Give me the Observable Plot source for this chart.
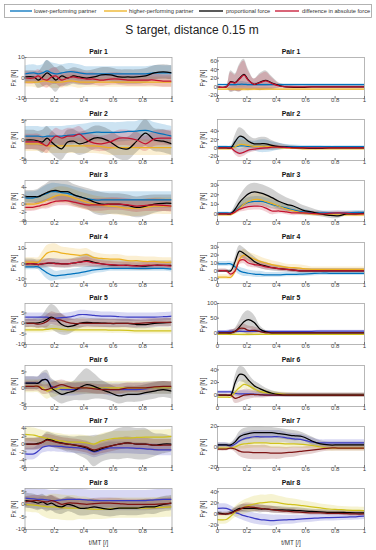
<!DOCTYPE html>
<html><head><meta charset="utf-8">
<script src="https://cdn.jsdelivr.net/npm/d3@7"></script>
<script src="https://cdn.jsdelivr.net/npm/@observablehq/plot@0.6"></script>
<style>
body{margin:0;background:#fff;font-family:"Liberation Sans",Arial,sans-serif}
#root{position:relative;width:376px;height:550px;overflow:hidden;background:#fff}
.panel{position:absolute}
#title{position:absolute;left:0;width:376px;top:23px;text-align:center;font-size:12px;color:#222;padding-left:4px}
</style></head><body><div id="root"><div id="title">S target, distance 0.15 m</div></div>
<script>
// normalized time t/MT
const T = [0,.06,.09,.12,.15,.18,.21,.25,.29,.33,.37,.42,.47,.52,.58,.64,.7,.76,.82,.88,.94,1];
const SERIES = ["lower","higher","prop","diff"];
const LEGEND_LABELS = ["lower-performing partner","higher-performing partner","proportional force","difference in absolute force"];
const COLORS_A = ["#0072bd","#edb120","#000000","#c4122f"];
const COLORS_B = ["#3b3bc4","#d0c21c","#000000","#7d1313"];
const X_TICKS = [0,.2,.4,.6,.8,1];

// ---- Pair 1 ----
const fx1 = {
  lower:[2,2.5,2,2.5,3.5,2.5,2,2.5,3,3,2.5,2,2,2,2,2,2,2,2,2.5,2.5,2.5],
  higher:[-2,-2,-2,-1.5,-1.5,-2,-2,-2,-1.5,-1.5,-2,-2,-2,-2,-2,-2,-2,-2,-2,-2,-2,-2],
  prop:[0.5,0.5,-1,0.5,2.5,1,-1,1,0,1,0.5,0,0.5,1.5,1.5,0.5,0.5,0.5,1,2.5,3,2.5],
  diff:[0,0,1,-0.5,-1,0.5,1,-1,0,0.5,0,-0.5,-0.5,-1,-0.5,-0.5,-1,-1,-1,-1,-1.5,-1.5]};
const fx1sd = {
  lower:[4,4,4,4,5,5,5,4,4,4,4,3.5,3.5,3.5,3.5,3.5,3.5,3.5,3.5,3.5,3.5,3.5],
  higher:[2.5,2.5,3,3,3,3,3,3,3,3,3,2.5,2.5,2.5,2.5,2.5,2.5,2.5,2.5,2.5,2.5,2.5],
  prop:[3,3,4,5,6,6,6,5,4,4,4,3.5,3.5,3.5,3.5,3.5,3.5,3.5,3.5,3.5,3.5,3.5],
  diff:[3,3,3,3.5,4,4,4,3.5,3,3,3,3,3,3,3,3,3,3,3,3,3,3]};
const fy1 = {
  lower:[5,5,5,5,6,6,5,5,5,5,5,5,5,5,5,5,5,5,5,5,5,5],
  higher:[-5,-5,-5,-5,-5,-5,-5,-5,-5,-5,-5,-5,-5,-5,-5,-5,-5,-5,-5,-5,-5,-5],
  prop:[0,0,12,10,20,29,16,6,11,15,9,3,0,-1,-1,0,0,0,0,0,0,0],
  diff:[0,0,11,9,18,27,15,6,10,14,8,2,0,0,0,0,0,0,0,0,0,0]};
const fy1sd = {
  lower:[2,2,4,5,6,6,5,4,4,4,3,2,2,2,2,2,2,2,2,2,2,2],
  higher:[2,2,4,5,6,6,5,4,4,4,3,2,2,2,2,2,2,2,2,2,2,2],
  prop:[2,2,25,20,32,35,25,12,20,22,15,6,4,3,3,3,3,3,3,3,3,3],
  diff:[2,2,22,18,30,33,22,12,18,20,13,5,3,3,2,2,2,2,2,2,2,2]};

// ---- Pair 2 ----
const fx2 = {
  lower:[1,1,1,0.8,1,1,1,1,1.2,1.3,1.5,1.7,2,2,2,2,2.2,2.3,2.5,2,1.5,1],
  higher:[-1,-1,-1,-1.2,-1.5,-1.5,-1.5,-1.5,-1.5,-1.5,-1.5,-1.5,-1.5,-1.7,-2,-2,-2,-2,-2,-2,-2,-2],
  prop:[0,0,-0.3,-0.5,0.5,-0.5,-1.5,-2.3,-0.5,-0.3,-1,-0.5,0.5,0.5,-0.5,-2,-2.3,-0.3,1.8,0,-0.3,-1],
  diff:[-0.5,-0.5,-0.5,-1,-1.5,0,1,0.5,1,1,1.5,0,-0.8,-1,-0.5,0.5,0.5,0,-1,0.3,0.5,0.5]};
const fx2sd = {
  lower:[2.5,2.5,2.5,2.5,2.5,2.5,2.5,2.5,2.5,2.5,2.5,2.5,2.5,2.5,2.5,2.5,2.5,2.5,3,2.5,2.5,2.5],
  higher:[2,2,2,2,2,2,2,2,2,2,2,2,2,2,2,2,2,2,2,2,2,2],
  prop:[2.5,2.5,2.5,3,3,3,3,3,3,3,3,3,3,3,3,3,3,3,3.5,3,3,3],
  diff:[2,2,2,2,2,2,2,2,2,2,2,2,2,2,2,2,2,2,2,2,2,2]};
const fy2 = {
  lower:[3,3,3,3,5,5,4,4,4,4,3,3,3,3,3,3,3,3,3,3,3,3],
  higher:[-2,-2,-2,3,8,8,6,4,4,4,3,1,0,-1,-2,-2,-2,-2,-2,-2,-2,-2],
  prop:[0,0,0,15,28,25,16,10,10,10,6,3,2,1,0,-1,-1,0,0,0,0,0],
  diff:[0,0,0,-8,-13,-10,-5,-3,-1,0,2,2,1,0,0,0,0,0,0,0,0,0]};
const fy2sd = {
  lower:[2,2,2,15,22,20,15,12,15,15,12,8,5,4,3,3,3,2,2,2,2,2],
  higher:[2,2,2,6,10,10,8,6,6,6,5,4,3,3,3,2,2,2,2,2,2,2],
  prop:[2,2,2,15,20,18,15,12,15,15,12,8,5,4,3,3,3,3,3,3,3,3],
  diff:[2,2,2,8,10,10,8,6,5,5,5,4,3,3,3,2,2,2,2,2,2,2]};

// ---- Pair 3 ----
const fx3 = {
  lower:[1.5,1.5,1.8,2.2,2.6,3,3,2.8,2.6,2.2,1.8,1.3,1,1,1,1,1,1,1,1,1,1],
  higher:[0,0,0.2,0.5,1,1.5,2,2.2,2,1.5,1,0.5,0,-0.3,-0.5,-0.7,-1,-1,-0.8,-0.5,-0.5,-0.5],
  prop:[1.8,1.8,1.8,2.3,2.8,3.2,3.3,3,3,2.3,1.8,1.3,0.5,0,0,0,-0.3,-0.8,-0.5,0,0.2,0.2],
  diff:[-0.8,-0.7,-0.5,-0.2,0,0.4,0.7,0.8,0.8,0.5,0.2,-0.2,-0.2,-0.2,0,0,-0.2,-0.5,-0.3,-0.2,-0.3,-0.5]};
const fx3sd = {
  lower:[1.5,1.5,1.5,1.8,2,2,2,2,2,2,2,2,2,2,2,2,2,2,2,2,2,2],
  higher:[1.5,1.5,1.5,1.5,1.8,2,2,2,2,2,2,2,2,2,2,2,2,2,2,2,2,2],
  prop:[1.5,1.5,1.8,2,2.2,2.5,2.5,2.5,2.5,2.5,2.5,2.5,2.8,2.8,2.5,2.5,2.5,2.5,2.5,2.2,2,2],
  diff:[1,1,1,1,1.2,1.2,1.2,1.2,1.2,1.2,1.2,1.2,1.5,1.5,1.5,1.5,1.5,1.5,1.5,1.5,1.5,1.5]};
const fy3 = {
  lower:[1,1,1,3,7,10,12,13,13,12,10,8,6,4,2,1,1,1,1,1,1.5,1.5],
  higher:[-1,-1,-1,2,6,10,13,15,15,13,11,8,5,3,1,0,-0.5,-1,-1,-1,-1,-1],
  prop:[0,0,0,5,12,17,21,23,22,20,17,13,10,8,4,2,0,-1.5,-2,0,0,0.5],
  diff:[0,0,0,2,5,6.5,7.5,8,8,6,3,3,2,1,1,0.5,0,0.5,1,0.5,0,0]};
const fy3sd = {
  lower:[1,1,1,3,4,5,5,5,5,5,5,4,4,3,3,2,2,2,2,2,2,2],
  higher:[1,1,1,3,4,5,5,6,6,6,5,5,4,3,3,2,2,2,2,2,2,2],
  prop:[1,1,1,4,6,8,9,9,9,9,9,8,7,6,5,4,3,3,3,2,2,2],
  diff:[1,1,1,2,3,4,4,4,4,4,4,3,3,3,2,2,2,2,2,2,2,2]};

// ---- Pair 4 ----
const fx4 = {
  lower:[-2,-2,-2,-4,-6,-7.5,-8,-7.5,-7,-6.5,-6,-5,-4,-3.5,-3,-3,-3,-3,-3,-3,-3,-3.5],
  higher:[1,1,1,4,7,8,8,7,6.5,6,5.5,6,4,3.5,3,3,2,2,1.5,1.5,1,1],
  prop:[0,0,-0.5,0,0.3,0.5,0.3,0,0,0.5,1,2,1,0,-0.8,-1,-1,-1.3,-1.5,-1,-1,-1],
  diff:[0,0,-0.5,0,0.5,0.5,0,0,0,0.5,1,1.5,0.5,0,-0.5,-1,-1,-1.5,-1,-1,-1,-1.5]};
const fx4sd = {
  lower:[2,2,2,3,4,4,3,3,3,3,3,3,2.5,2.5,2,2,2,2,2,2,2,2],
  higher:[3,3,3,4,5,5,5,4,4,4,4,4,3.5,3,3,3,3,3,3,3,3,3],
  prop:[3,3,3,3,3,3,3,3,3,3,3.5,4.5,3.5,3,3,3,3,3,3,3,3,3],
  diff:[2,2,2,2,2.5,2.5,2.5,2.5,2.5,2.5,2.5,3,2.5,2,2,2,2,2,2,2,2,2]};
const fy4 = {
  lower:[9,9,9,5,0,-2,-3,-4,-4.5,-5,-5,-5,-4.5,-4.5,-4,-3.5,-3,-3,-3,-3,-3,-3],
  higher:[-8,-8,-8,0,15,20,18,15,12,10,8,6,4.5,4,3,2,2,2,2,2,2,2],
  prop:[0,0,0,12,25,22,18,12,8,6,4,3,2,1,0,0,0,0,0,0,0,0],
  diff:[0,0,-4,0,13,14,10,8,7,5,4,3,2,1,0,0,0,0,0,0,0,0]};
const fy4sd = {
  lower:[3,3,3,5,5,5,4,4,4,3,3,3,3,3,3,3,3,3,3,3,3,3],
  higher:[3,3,3,5,7,7,6,6,6,5,5,5,4,4,4,3,3,3,3,3,3,3],
  prop:[2,2,2,5,7,7,6,6,5,5,4,4,3,3,3,3,3,3,3,3,3,3],
  diff:[2,2,3,4,5,5,5,4,4,4,3,3,3,3,2,2,2,2,2,2,2,2]};

// ---- Pair 5 ----
const fx5 = {
  lower:[3,3,3,3,3,2.5,2.5,2.8,3,3.5,4.2,4.2,3.8,3.5,3.5,3.2,3,3,3,3,3.2,3.5],
  higher:[-3,-3,-3,-3,-2.8,-2.5,-2.5,-2.8,-3,-3,-3,-3,-3,-3,-3.2,-3.2,-3.3,-3.5,-3.5,-3.5,-3.5,-3.5],
  prop:[0,0.2,0.3,0.8,2,3,2,-0.5,-1.5,-1,0,0.5,0.3,0.2,0,0,0,-0.5,-0.5,0,0.3,0.5],
  diff:[0,0,-0.3,0,1,2.5,2,1.5,0.5,0,0,0,0,0,0,0,0,0,0.3,0.5,0.5,0.5]};
const fx5sd = {
  lower:[2,2,2,2,2,2,2,2,2,2,2,2,2,2,2,2,2,2,2,2,2,2],
  higher:[1.5,1.5,1.5,1.5,1.5,1.5,1.5,1.5,1.5,1.5,1.5,1.5,1.5,1.5,1.5,1.5,1.5,1.5,1.5,1.5,1.5,1.5],
  prop:[2,2,2.5,3,5,6,6,5,4,3,2.5,2,2,2,2,2,2,2,2,2,2,2],
  diff:[2,2,2,2,3,3,3,3,2.5,2,2,2,2,2,2,2,2,2,2,2,2,2]};
const fy5 = {
  lower:[5,5,5,5,5,5,5,5,5,5,5,5,5,5,5,5,6,6,6,6,6,6],
  higher:[-5,-5,-5,-5,-5,-5,-5,-5,-5,-5,-5,-5,-5,-5,-5,-5,-5,-5,-5,-5,-5,-5],
  prop:[0,0,0,5,20,38,45,35,12,3,0,0,0,0,0,0,0,0,0,0,0,0],
  diff:[0,0,0,5,15,15,8,8,4,0,0,0,0,0,0,0,0,0,0,0,0,0]};
const fy5sd = {
  lower:[3,3,5,5,6,8,8,6,4,3,3,3,3,3,3,3,3,3,3,3,3,3],
  higher:[3,3,5,5,6,8,8,6,4,3,3,3,3,3,3,3,3,3,3,3,3,3],
  prop:[2,2,8,10,20,28,30,25,12,5,3,2,2,2,2,2,2,2,2,2,2,2],
  diff:[2,2,10,8,12,15,15,12,8,4,3,2,2,2,2,2,2,2,2,2,2,2]};

// ---- Pair 6 ----
const fx6 = {
  lower:[1.5,1.5,1.5,2.5,2.5,0.5,0,-0.5,-0.5,-0.5,-0.3,0,0,0,-0.5,-0.5,-0.5,-0.5,-0.3,0,0,0],
  higher:[0.5,0.5,0.5,0,-1,-0.5,-0.3,0,0,0,0,0,0,0,0,0,0,0,0,0,0,0],
  prop:[1.5,1.5,1.5,2.5,2.5,0,-1,-2,-1.5,-1,0,1,0.5,-0.5,-1.5,-2.5,-2,-2,-1.5,-1,-0.5,-1],
  diff:[0.5,0.5,0.5,-0.5,-0.5,0,0.5,1,0.5,0,0,0,-0.3,-0.5,-0.5,-0.5,0,0,0,0.3,0.5,0.5]};
const fx6sd = {
  lower:[2,2,2,2,2,2,2,2,2,2,2,2,2,2,2,2,2,2,2,2,2,2],
  higher:[2,2,2,2.5,2.5,2.5,2.5,2,2,2,2,2,2,2,2,2,2,2,2,2,2,2],
  prop:[2,2,2,2.5,3,3,3,3,3,3,4,5,4,3,2.5,2.5,2.5,2.5,2.5,2.5,2.5,2.5],
  diff:[1.5,1.5,1.5,1.5,1.5,1.5,1.5,1.5,1.5,1.5,1.5,1.5,1.5,1.5,1.5,1.5,1.5,1.5,1.5,1.5,1.5,1.5]};
const fy6 = {
  lower:[5,5,5,3,2,2,2,1.5,1,0.5,0,0,0,0,0,0,0,0,0,0,0,0],
  higher:[-3,-3,-3,5,12,17,15,10,6,4,3,2,1,0.5,0,0,0,0,0,0,0,0],
  prop:[0,0,0,20,33,32,24,15,10,6,3,1,0,0,0,0,0,0,0,0,0,0],
  diff:[0,0,0,-5,-3,0,1,1,0.5,0,0,0,0,0,0,0,0,0,0,0,0,0]};
const fy6sd = {
  lower:[2,2,2,4,5,5,5,4,4,3,3,3,3,3,3,3,3,3,3,3,3,3],
  higher:[2,2,2,5,7,7,7,6,5,4,3,3,3,3,3,3,3,3,3,3,3,3],
  prop:[2,2,2,10,12,12,10,8,7,5,4,3,3,3,3,3,3,3,3,3,3,3],
  diff:[2,2,2,8,9,9,8,6,5,4,3,3,3,3,3,3,3,3,3,3,3,3]};

// ---- Pair 7 ----
const fx7 = {
  lower:[-2.5,-2.5,-1.8,-0.8,-0.5,-0.5,-0.5,-0.6,-0.8,-0.9,-1,-1.3,-2,-1.5,-1,-1,-1,-1.1,-1.2,-1.4,-1.5,-1.5],
  higher:[2.5,2.3,2,1.7,1.5,1.2,1,0.8,0.5,0.5,0.5,0.3,0,0.8,1.3,1.5,1.5,1.7,1.8,1.8,1.8,2],
  prop:[0,0,0.2,0.5,1.2,1,0.6,0.3,0,-0.2,-0.5,-1,-1.8,-1.2,-0.5,0,0.3,0,0,-0.3,0,0],
  diff:[0,0,0,0.5,1,0.8,0.5,0.2,0,-0.2,-0.4,-0.8,-1.5,-1,-0.5,0,0.3,0,0,-0.3,-0.3,-0.3]};
const fx7sd = {
  lower:[1.5,1.5,1.5,1.5,1.5,1.5,1.5,1.5,1.5,1.5,1.5,1.5,1.5,1.5,1.5,1.5,1.5,1.5,1.5,1.5,1.5,1.5],
  higher:[1.8,1.8,1.8,1.8,1.8,1.8,1.8,1.8,1.8,1.8,1.8,1.8,1.8,1.8,1.8,1.8,1.8,1.8,1.8,1.8,1.8,1.8],
  prop:[1.5,1.5,1.5,1.5,1.8,1.8,1.8,1.8,2,2,2.5,3,4,3.5,3.5,4,4,4,4,3,2.5,2],
  diff:[1.5,1.5,1.5,1.5,1.5,1.5,1.5,1.5,1.5,1.5,1.5,1.5,1.5,1.5,1.5,1.5,1.5,1.5,1.5,1.5,1.5,1.5]};
const fy7 = {
  lower:[2,2,1,3,6,8,9,10,10,10,10,10,9,8,7,5,4,4,4,4,4,4],
  higher:[-1,-1,-1,0,2,3,3.5,4,4,4,3.5,3.5,3,3,2.5,1.5,0,-1,-1,-1,-1,-1],
  prop:[2,2,2,5,10,12,13,14,14,14,14,13,12,11,10,6,3,2,2,2,2,2],
  diff:[-2,-2,-1,-2,-4,-5,-5,-5.5,-5.5,-5.5,-6,-6,-5.5,-5,-4,-3,-2,-1,-1,-1,-1,-1]};
const fy7sd = {
  lower:[2,2,2,3,5,6,6,6,6,6,6,6,5,5,5,4,3,3,3,3,3,3],
  higher:[2,2,2,3,4,5,5,5,5,5,5,5,5,4,4,3,3,3,3,3,3,3],
  prop:[2,2,2,3,5,6,6,6,6,5,5,5,5,5,4,4,3,3,3,3,3,3],
  diff:[2,2,2,3,5,6,7,7,7,7,6,6,5,5,4,4,3,3,3,3,3,3]};

// ---- Pair 8 ----
const fx8 = {
  lower:[2.5,2.2,2,2,1.8,1.5,1.5,1.8,2,2,2,1.8,1.5,1.5,1.5,1.5,1.5,1.5,1.5,1.8,2,2],
  higher:[0,-0.3,-0.5,-0.7,-1,-1,-1,-1.3,-1.5,-1.5,-1.5,-1.7,-2,-2,-1.7,-1.5,-1.5,-1.5,-1.5,-1.3,-1.2,-1],
  prop:[1.5,1,0.5,1,0,0.5,-0.5,-1,0,-0.5,-1.5,-1.5,-1,-1.5,-2,-1.5,-1.5,-1.5,-1,-1,0,0.5],
  diff:[1,1.5,1.5,1.2,1,1.5,1,0,0.5,0.5,0.3,0,0.3,0.5,0.5,0.3,0,0,0,0,0.2,0.5]};
const fx8sd = {
  lower:[4,4,4,4,4,4,4,4,4,4,4,4,4,4,4,4,4,4,4,4,4,4],
  higher:[3,3,3,4,4.5,5,5,5,5,5,4.5,4.5,4,4,4,4,4,4,4,4,4,4],
  prop:[3,3,3,3,3,3,3,3,3,3,3,3,3,3,3,3,3,3,3,3,3,3],
  diff:[2,2,2,2,2,2,2,2,2,2,2,2,2,2,2,2,2,2,2,2,2,2]};
const fy8 = {
  lower:[10,10,7,3,0,-3,-5,-8,-10,-11,-12,-11,-10.5,-10,-9,-8,-7,-6.5,-6,-5.5,-5,-4],
  higher:[-10,-10,-4,3,8,12,15,18,20,21,22,20,18,17,15,13,11,9,8,7,6.5,6],
  prop:[2,0,2,6,10,10,10,10,9,9,8,7.5,7,6.5,5.5,4.5,4,3,3,2.5,2,2],
  diff:[0,0,1,5,8,12,13,12,10,9,8,6,5,4,3,2,2,1,1,0.5,0,0]};
const fy8sd = {
  lower:[8,8,8,8,9,9,10,10,10,10,10,9,8,8,7,7,6,6,6,6,6,6],
  higher:[8,8,9,10,12,13,13,14,14,13,13,12,11,10,9,8,7,7,6,6,6,6],
  prop:[3,3,4,5,6,7,7,7,7,6,6,6,5,5,5,4,4,4,4,4,4,4],
  diff:[3,3,4,5,6,7,7,7,6,6,6,5,5,5,4,4,4,4,4,4,4,4]};

// axis ranges / ticks per panel
const FX_DOMAINS = [[-10,10],[-5.3,5.3],[-4.2,5.7],[-13,14],[-10,9.5],[-5.8,7],[-6,4.5],[-10,6.3]];
const FX_TICKS = [[-10,0,10],[-5,0,5],[-4,-2,0,2,4],[-10,0,10],[-10,-5,0,5],[-5,0,5],[-6,-4,-2,0,2,4],[-10,-5,0,5]];
const FY_DOMAINS = [[-27,68],[-30,68],[-8,35],[-16,36],[-40,100],[-18,47],[-20,20],[-28,46]];
const FY_TICKS = [[-20,0,20,40,60],[-20,0,20,40],[0,10,20,30],[-10,0,10,20,30],[0,50,100],[0,20,40],[-20,0,20],[-20,0,20,40]];
const FX_DATA = [[fx1,fx1sd],[fx2,fx2sd],[fx3,fx3sd],[fx4,fx4sd],[fx5,fx5sd],[fx6,fx6sd],[fx7,fx7sd],[fx8,fx8sd]];
const FY_DATA = [[fy1,fy1sd],[fy2,fy2sd],[fy3,fy3sd],[fy4,fy4sd],[fy5,fy5sd],[fy6,fy6sd],[fy7,fy7sd],[fy8,fy8sd]];

const root = document.getElementById("root");
const FONT = "'Liberation Sans', Arial, sans-serif";

// legend
(function legend(){
  const svg = d3.create("svg").attr("width",376).attr("height",20)
    .style("position","absolute").style("left","0px").style("top","0px");
  svg.append("rect").attr("x",4.5).attr("y",4.5).attr("width",367).attr("height",13)
    .attr("fill","#fff").attr("stroke","#a0a0a0").attr("stroke-width",0.8);
  const lx = [[10,32,34],[104,127,129],[199,223,226],[275,299,302]];
  LEGEND_LABELS.forEach((lab,i)=>{
    svg.append("line").attr("x1",lx[i][0]).attr("x2",lx[i][1]).attr("y1",11).attr("y2",11)
      .attr("stroke",COLORS_A[i]).attr("stroke-width",1.3);
    svg.append("text").attr("x",lx[i][2]).attr("y",11).attr("dy","0.35em")
      .attr("font-size",5.7).attr("font-family",FONT).attr("fill","#333").text(lab);
  });
  root.appendChild(svg.node());
})();

function panel(pair, comp, mean, sd, domain, ticks, last) {
  const colors = pair <= 4 ? COLORS_A : COLORS_B;
  const left = comp === "x";
  const marks = [];
  SERIES.forEach((k,j)=>{
    const rows = T.map((t,i)=>({t, lo: mean[k][i]-sd[k][i], hi: mean[k][i]+sd[k][i]}));
    marks.push(Plot.areaY(rows,{x:"t",y1:"lo",y2:"hi",fill:colors[j],fillOpacity:j===2?0.18:0.2,curve:"catmull-rom",clip:true}));
  });
  SERIES.forEach((k,j)=>{
    marks.push(Plot.lineY(mean[k],{x:T,y:d=>d,stroke:colors[j],strokeWidth:1.25,curve:"catmull-rom",clip:true}));
  });
  marks.push(Plot.frame({stroke:"#a6a6a6",strokeWidth:0.8}));
  marks.push(Plot.axisX({ticks:X_TICKS,tickFormat:d=>String(d),tickSize:-2,tickPadding:1.5,fontSize:6,label:null,stroke:"#777",fill:"#444"}));
  marks.push(Plot.axisY({ticks,tickFormat:d=>String(d),tickSize:-2,tickPadding:2.5,fontSize:6,label:null,stroke:"#777",fill:"#444"}));
  marks.push(Plot.text([`Pair ${pair}`],{frameAnchor:"top",dy:-5.5,textAnchor:"middle",lineAnchor:"middle",fontWeight:"bold",fontSize:6.8,fill:"#111"}));
  marks.push(Plot.text([`F${comp} [N]`],{frameAnchor:"left",dx:left?-11.5:-15,rotate:-90,textAnchor:"middle",lineAnchor:"middle",fontSize:6.3,fill:"#333"}));
  if (last) marks.push(Plot.text(["t/MT [/]"],{frameAnchor:"bottom",dy:13,textAnchor:"middle",lineAnchor:"middle",fontSize:6.3,fill:"#333"}));
  return Plot.plot({
    width:188, height: last ? 75 : 62,
    marginLeft: left ? 24.5 : 29, marginRight: left ? 16.5 : 12,
    marginTop:13, marginBottom: last ? 21 : 8,
    x:{domain:[0,1]}, y:{domain},
    style:{fontFamily:FONT,color:"#444",background:"transparent",overflow:"visible"},
    marks
  });
}

for (let r = 0; r < 8; r++) {
  const top = 44 + r*61.5;
  [["x",FX_DATA,FX_DOMAINS,FX_TICKS,0],["y",FY_DATA,FY_DOMAINS,FY_TICKS,188]].forEach(([comp,D,DOM,TK,lx])=>{
    const div = document.createElement("div");
    div.className = "panel";
    div.style.left = lx+"px"; div.style.top = top+"px";
    div.appendChild(panel(r+1, comp, D[r][0], D[r][1], DOM[r], TK[r], r===7));
    root.appendChild(div);
  });
}
</script></body></html>
